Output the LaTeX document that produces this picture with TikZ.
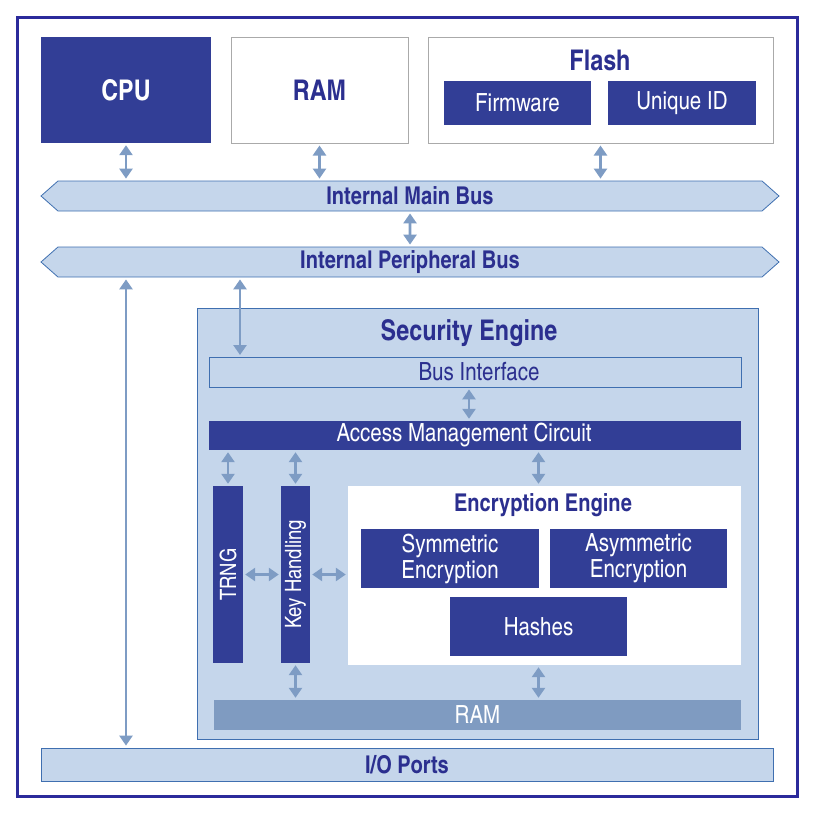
\documentclass[tikz,border=0pt]{standalone}
\usepackage{fontspec}
\setmainfont{texgyreheroscn}[Extension=.otf, UprightFont=*-regular, BoldFont=*-bold]
\usetikzlibrary{arrows.meta}
\usetikzlibrary{shapes.symbols}

\definecolor{seDark}{HTML}{323E96}
\definecolor{seText}{HTML}{2B2F8F}
\definecolor{seLight}{HTML}{C5D6EB}
\definecolor{seEdge}{HTML}{3F6FB0}
\definecolor{seArrow}{HTML}{7E9CC4}
\definecolor{seRam}{HTML}{7F9BC1}
\definecolor{seGray}{HTML}{AAAAAA}
\definecolor{seFrame}{HTML}{2B2A9B}

\tikzset{
  big/.style={font=\bfseries\fontsize{28.5}{30}\selectfont},
  mid/.style={font=\bfseries\fontsize{24.5}{26}\selectfont},
  txt/.style={font=\fontsize{25}{26}\selectfont},
  vtxt/.style={font=\fontsize{22.5}{24}\selectfont},
  dark/.style={fill=seDark, text=white, inner sep=0pt, txt},
  light/.style={fill=seLight, draw=seEdge, line width=0.8pt, text=seText, inner sep=0pt},
  plain/.style={fill=white, draw=seGray, line width=1pt, inner sep=0pt},
  bus/.style={light, mid, signal, signal to=west and east, signal pointer angle=83,
    minimum width=738pt, minimum height=30pt},
  link/.style={draw=seArrow, line width=2.6pt,
    {Triangle[width=13pt,length=10pt]}-{Triangle[width=13pt,length=10pt]},
    shorten >=2pt, shorten <=2pt}
}

\begin{document}
\begin{tikzpicture}[x=1pt,y=-1pt]
      \useasboundingbox (0,0) rectangle (815,815);
      \draw[seFrame, line width=3pt] (17.5,17.5) rectangle (797,796.5);
      % top row
      \node[dark, big, minimum width=170pt, minimum height=106pt] at (126,90) (cpu){CPU};
      \node[plain, big, text=seText, minimum width=177pt, minimum height=106pt] at (319.5,90) (ram){RAM};
      \node[plain, minimum width=345pt, minimum height=106pt] at (600.5,90) (flash){};
      \node[big, text=seText] at (600,60) (flashtitle){Flash};
      \node[dark, minimum width=147pt, minimum height=44pt] at (517.5,103) (fw){Firmware};
      \node[dark, minimum width=148pt, minimum height=44pt] at (682,103) (uid){Unique ID};
      % buses
      \node[bus] at (410,196) (mainbus){Internal Main Bus};
      \node[bus] at (410,262) (perbus){Internal Peripheral Bus};
      % security engine
      \node[light, minimum width=561pt, minimum height=431pt] at (477.5,523.5) (se){};
      \node[big, text=seText] at (469,333) (setitle){Security Engine};
      \node[light, txt, minimum width=532pt, minimum height=30pt] at (475,372) (bif){\hspace*{8pt}Bus Interface};
      \node[dark, minimum width=532pt, minimum height=29pt] at (475,435.5) (amc){\hspace*{-22pt}Access Management Circuit};
      \node[dark, vtxt, rotate=90, minimum width=177pt, minimum height=30pt] at (228,574.5) (trng){TRNG};
      \node[dark, vtxt, rotate=90, minimum width=177pt, minimum height=29pt] at (295.5,574.5) (kh){Key Handling};
      \node[fill=white, minimum width=393pt, minimum height=179pt] at (544.5,575.5) (enc){};
      \node[mid, text=seText] at (543,505) (enctitle){Encryption Engine};
      \node[dark, align=center, minimum width=178pt, minimum height=59pt] at (450,558.5) (sym){Symmetric\\Encryption};
      \node[dark, align=center, minimum width=177pt, minimum height=59pt] at (638.5,558.5) (asym){Asymmetric\\Encryption};
      \node[dark, minimum width=177pt, minimum height=59pt] at (538.5,626.5) (hash){Hashes};
      \node[fill=seRam, text=white, txt, inner sep=0pt, minimum width=527pt, minimum height=30pt] at (477.5,715) (ram2){RAM};
      \node[light, mid, minimum width=732pt, minimum height=33pt] at (407,764.5) (io){I/O Ports};
      \coordinate (bifin) at (240,357);
      % connectors
      \draw[link] (cpu) -- (cpu |- mainbus.north);
      \draw[link] (ram) -- (ram |- mainbus.north);
      \draw[link] (flash) -- (flash |- mainbus.north);
      \draw[link] (mainbus) -- (perbus);
      \draw[link] (perbus.south -| cpu) -- (io.north -| cpu);
      \draw[link] (perbus.south -| bifin) -- (bifin);
      \draw[link] (bif.south -| setitle) -- (amc.north -| setitle);
      \draw[link] (amc.south -| trng) -- (trng);
      \draw[link] (amc.south -| kh) -- (kh);
      \draw[link] (amc.south -| hash) -- (enc.north -| hash);
      \draw[link] (trng) -- (kh);
      \draw[link] (kh) -- (kh -| enc.west);
      \draw[link] (kh) -- (kh |- ram2.north);
      \draw[link] (enc.south -| hash) -- (ram2.north -| hash);
    \end{tikzpicture}
\end{document}
